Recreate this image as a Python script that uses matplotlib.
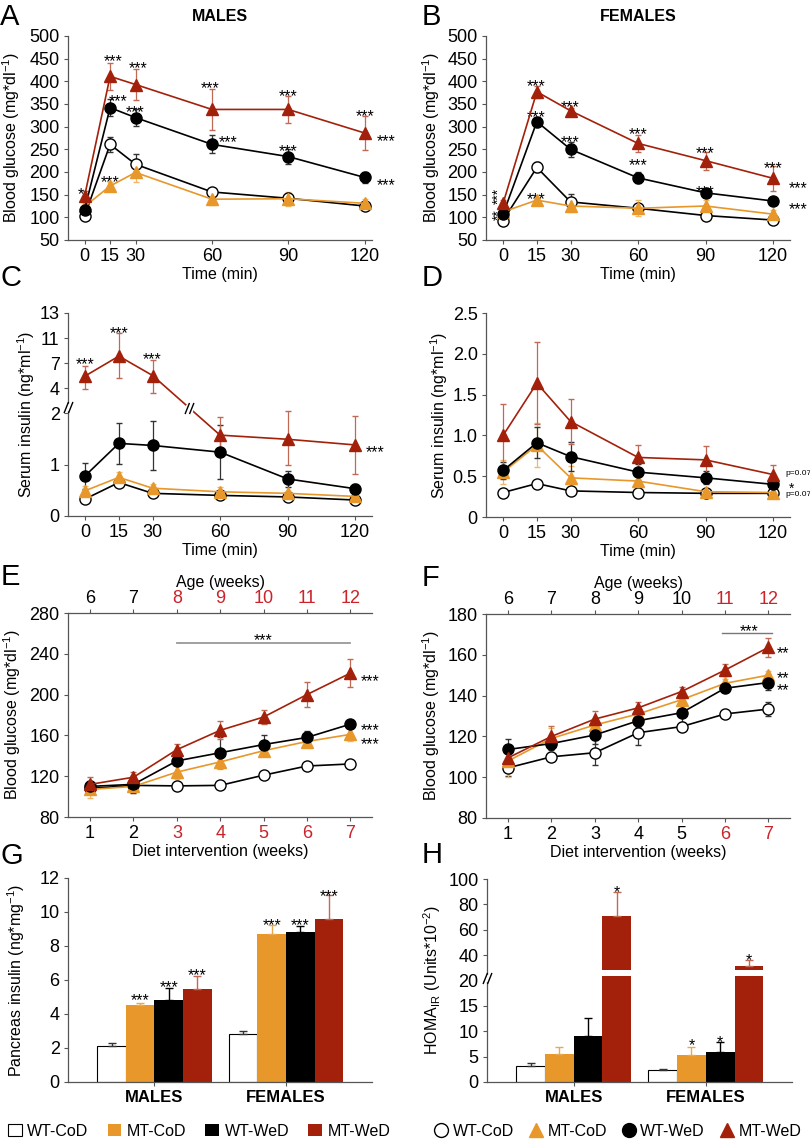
from __future__ import annotations

import matplotlib

matplotlib.use("Agg")
import matplotlib.pyplot as plt
import numpy as np
from matplotlib.lines import Line2D
from matplotlib.path import Path

plt.rcParams["font.family"] = "Liberation Sans"
plt.rcParams["mathtext.fontset"] = "custom"
plt.rcParams["mathtext.rm"] = "Liberation Sans"
plt.rcParams["mathtext.it"] = "Liberation Sans:italic"

GROUPS = ["WT-CoD", "MT-CoD", "WT-WeD", "MT-WeD"]
TIME_MIN = [0, 15, 30, 60, 90, 120]
DIET_WEEKS = [1, 2, 3, 4, 5, 6, 7]
AGE_WEEKS = [6, 7, 8, 9, 10, 11, 12]

# A - GTT males (mg/dl)
GTT_M_WTCOD = [103, 261, 217, 156, 142, 125]
GTT_M_WTCOD_SE = [6, 17, 22, 6, 8, 8]
GTT_M_MTCOD = [124, 169, 199, 140, 141, 131]
GTT_M_MTCOD_SE = [6, 8, 20, 12, 15, 9]
GTT_M_WTWED = [117, 342, 320, 261, 234, 188]
GTT_M_WTWED_SE = [8, 18, 18, 20, 17, 13]
GTT_M_MTWED = [147, 411, 393, 338, 338, 286]
GTT_M_MTWED_SE = [10, 30, 35, 45, 30, 38]

# B - GTT females
GTT_F_WTCOD = [93, 210, 134, 120, 104, 94]
GTT_F_WTCOD_SE = [5, 11, 17, 5, 4, 4]
GTT_F_MTCOD = [112, 138, 125, 120, 125, 107]
GTT_F_MTCOD_SE = [6, 5, 13, 18, 13, 10]
GTT_F_WTWED = [107, 311, 250, 187, 154, 136]
GTT_F_WTWED_SE = [8, 8, 17, 12, 6, 5]
GTT_F_MTWED = [131, 377, 335, 263, 225, 186]
GTT_F_MTWED_SE = [8, 13, 6, 18, 20, 27]

# C - serum insulin males (ng/ml)
INS_M_WTCOD = [0.33, 0.65, 0.44, 0.40, 0.37, 0.31]
INS_M_WTCOD_SE = [0.03, 0.05, 0.03, 0.02, 0.02, 0.02]
INS_M_MTCOD = [0.49, 0.75, 0.54, 0.47, 0.44, 0.38]
INS_M_MTCOD_SE = [0.10, 0.10, 0.08, 0.10, 0.05, 0.04]
INS_M_WTWED = [0.78, 1.41, 1.37, 1.24, 0.72, 0.53]
INS_M_WTWED_SE = [0.25, 0.40, 0.47, 0.53, 0.15, 0.10]
INS_M_MTWED = [5.44, 8.1, 5.5, 1.57, 1.49, 1.38]
INS_M_MTWED_LO = [1.5, 2.9, 1.9, 0.35, 0.5, 0.56]
INS_M_MTWED_HI = [1.2, 3.3, 2.0, 0.36, 0.7, 0.57]

# D - serum insulin females
INS_F_WTCOD = [0.30, 0.41, 0.32, 0.30, 0.29, 0.29]
INS_F_WTCOD_SE = [0.02, 0.02, 0.02, 0.02, 0.02, 0.02]
INS_F_MTCOD = [0.55, 0.88, 0.48, 0.44, 0.31, 0.30]
INS_F_MTCOD_SE = [0.15, 0.27, 0.15, 0.08, 0.05, 0.03]
INS_F_WTWED = [0.57, 0.91, 0.74, 0.55, 0.48, 0.40]
INS_F_WTWED_SE = [0.10, 0.19, 0.18, 0.10, 0.08, 0.05]
INS_F_MTWED = [1.00, 1.64, 1.17, 0.73, 0.70, 0.52]
INS_F_MTWED_SE = [0.38, 0.50, 0.27, 0.15, 0.17, 0.12]

# E - fasting glucose males over diet weeks
GLU_M_WTCOD = [108, 111, 110.5, 111, 121, 130, 132]
GLU_M_WTCOD_SE = [2, 2, 2, 2, 2, 2, 2]
GLU_M_MTCOD = [107, 110, 124, 134, 145, 154, 161]
GLU_M_MTCOD_SE = [8, 6, 7, 7, 5, 4, 6]
GLU_M_WTWED = [110, 112, 135, 143, 151, 158, 171]
GLU_M_WTWED_SE = [5, 8, 4, 15, 9, 6, 3]
GLU_M_MTWED = [112, 119, 146, 165, 178, 200, 221]
GLU_M_MTWED_SE = [7, 5, 6, 9, 7, 12, 14]

# F - fasting glucose females
GLU_F_WTCOD = [104.6, 110, 112, 121.8, 124.8, 131, 133.4]
GLU_F_WTCOD_SE = [4, 1.5, 6, 6, 2, 2, 3.5]
GLU_F_MTCOD = [108, 119, 125.6, 131, 138, 146, 150]
GLU_F_MTCOD_SE = [8, 5, 3, 3, 3, 2, 2]
GLU_F_WTWED = [113.6, 116.5, 120.7, 127.7, 131.6, 143.6, 146.4]
GLU_F_WTWED_SE = [5, 3, 4.5, 3, 4.5, 1.5, 3.5]
GLU_F_MTWED = [109.5, 120, 128.5, 134, 142, 152.5, 163.6]
GLU_F_MTWED_SE = [4, 5, 4, 3, 2, 3, 4.5]

# G - pancreas insulin (ng/mg), order WT-CoD, MT-CoD, WT-WeD, MT-WeD
PANC_MALES = [2.1, 4.55, 4.85, 5.5]
PANC_MALES_SE = [0.2, 0.1, 0.7, 0.75]
PANC_FEMALES = [2.8, 8.7, 8.85, 9.6]
PANC_FEMALES_SE = [0.2, 0.55, 0.35, 1.4]

# H - HOMA-IR (units*10^-2)
HOMA_MALES = [3.2, 5.5, 9.0, 70.5]
HOMA_MALES_SE = [0.5, 1.4, 3.6, 19.0]
HOMA_FEMALES = [2.4, 5.4, 6.0, 31.8]
HOMA_FEMALES_SE = [0.15, 1.5, 1.8, 4.0]

ORANGE = "#E8972A"
RED = "#A3210A"
TICK_RED = "#CC2229"
SPINE = "#555555"

LINE_STYLES = [
    dict(color="black", marker="o", mfc="white", mec="black", ecolor="#333333"),
    dict(color=ORANGE, marker="^", mfc=ORANGE, mec=ORANGE, ecolor="#F0B868"),
    dict(color="black", marker="o", mfc="black", mec="black", ecolor="#333333"),
    dict(color=RED, marker="^", mfc=RED, mec=RED, ecolor="#C06A55"),
]
BAR_STYLES = [
    dict(color="white", edgecolor="black", linewidth=0.8, ecolor="#333333"),
    dict(color=ORANGE, edgecolor="none", linewidth=0, ecolor="#E8A94F"),
    dict(color="black", edgecolor="none", linewidth=0, ecolor="black"),
    dict(color=RED, edgecolor="none", linewidth=0, ecolor="#C06A55"),
]

W, H = 810, 1142
TICK_FS = 13
LABEL_FS = 11.5
STAR_FS = 11.5

SLASH = Path(
    [(-0.8, -1.0), (0.0, 1.0), (0.0, -1.0), (0.8, 1.0)],
    [Path.MOVETO, Path.LINETO, Path.MOVETO, Path.LINETO],
)


def piecewise(xp, fp):
    def make(a, b):
        a = np.asarray(a, float)
        b = np.asarray(b, float)
        lo = (b[1] - b[0]) / (a[1] - a[0])
        hi = (b[-1] - b[-2]) / (a[-1] - a[-2])

        def f(v):
            v = np.asarray(v, float)
            out = np.interp(v, a, b)
            out = np.where(v < a[0], b[0] + (v - a[0]) * lo, out)
            return np.where(v > a[-1], b[-1] + (v - a[-1]) * hi, out)

        return f

    return make(xp, fp), make(fp, xp)


def add_axes(x0, y0, x1, y1):
    ax = plt.gcf().add_axes([x0 / W, 1 - y1 / H, (x1 - x0) / W, (y1 - y0) / H])
    for side in ("top", "right"):
        ax.spines[side].set_visible(False)
    for side in ("left", "bottom"):
        ax.spines[side].set_color(SPINE)
        ax.spines[side].set_linewidth(0.9)
    ax.tick_params(labelsize=TICK_FS, length=3, width=0.8, color=SPINE, pad=3)
    return ax


def draw_lines(ax, x, series):
    for (mean, err), style in zip(series, LINE_STYLES, strict=True):
        ax.errorbar(
            x, mean, yerr=err, color=style["color"], marker=style["marker"],
            mfc=style["mfc"], mec=style["mec"], ms=8, mew=1.0, lw=1.2,
            ecolor=style["ecolor"], elinewidth=0.9, capsize=2.5, capthick=0.9,
            clip_on=False, zorder=3,
        )


def stars(ax, items, fs=STAR_FS, rotation=0):
    # asterisks sit high in the em box, so nudge the text towards its visual centre
    shift = (0, -0.4 * fs) if rotation == 0 else (0.4 * fs, 0)
    for x, y, label in items:
        ax.annotate(label, (x, y), xytext=shift, textcoords="offset points",
                    ha="center", va="center", fontsize=fs, rotation=rotation,
                    annotation_clip=False)


def break_mark(ax, x, y, size=8):
    ax.plot(x, y, marker="s", ms=size * 0.55, mfc="white", mec="white", ls="none",
            clip_on=False, zorder=6)
    ax.plot(x, y, marker=SLASH, ms=size, mec="black", mew=1.0, ls="none",
            clip_on=False, zorder=7)


def ylabel(ax, text, xpos):
    ax.set_ylabel(text, fontsize=LABEL_FS)
    ax.yaxis.set_label_coords(xpos, 0.5)


fig = plt.figure(figsize=(W / 100, H / 100), dpi=100)

glucose_label = r"Blood glucose (mg*dl$^{\mathregular{-1}}$)"
insulin_label = r"Serum insulin (ng*ml$^{\mathregular{-1}}$)"

# ---- A ----
ax = add_axes(68, 36, 372, 240)
fwd, inv = piecewise([0, 30, 120], [0, 2, 11])
ax.set_xscale("function", functions=(fwd, inv))
draw_lines(ax, TIME_MIN, [
    (GTT_M_WTCOD, GTT_M_WTCOD_SE), (GTT_M_MTCOD, GTT_M_MTCOD_SE),
    (GTT_M_WTWED, GTT_M_WTWED_SE), (GTT_M_MTWED, GTT_M_MTWED_SE),
])
ax.set_xlim(-9.8, 122.9)
ax.set_ylim(50, 500)
ax.set_yticks(range(50, 501, 50))
ax.set_xticks(TIME_MIN)
ax.set_xlabel("Time (min)", fontsize=LABEL_FS, labelpad=1)
ylabel(ax, glucose_label, -0.151)
stars(ax, [
    (-2, 164, "*"), (16.7, 457, "***"), (31, 443, "***"), (19.7, 369, "***"),
    (29.5, 344, "***"), (59.2, 399, "***"), (66.5, 278, "***"), (90, 380, "***"),
    (90, 259, "***"), (120.2, 336, "***"), (128.5, 281, "***"), (128.5, 184, "***"),
    (15.2, 191, "***"),
])

# ---- B ----
ax = add_axes(486, 36, 790, 240)
draw_lines(ax, TIME_MIN, [
    (GTT_F_WTCOD, GTT_F_WTCOD_SE), (GTT_F_MTCOD, GTT_F_MTCOD_SE),
    (GTT_F_WTWED, GTT_F_WTWED_SE), (GTT_F_MTWED, GTT_F_MTWED_SE),
])
ax.set_xlim(-7.6, 127.5)
ax.set_ylim(50, 500)
ax.set_yticks(range(50, 501, 50))
ax.set_xticks(TIME_MIN)
ax.set_xlabel("Time (min)", fontsize=LABEL_FS, labelpad=1)
ylabel(ax, glucose_label, -0.145)
stars(ax, [
    (14.8, 402, "***"), (29.6, 355, "***"), (14.8, 333, "***"), (29.6, 278, "***"),
    (14.8, 154, "***"), (60, 296, "***"), (60, 228, "***"), (90, 255, "***"),
    (90, 169, "***"), (120, 221, "***"), (131, 178, "***"), (131, 131, "***"),
])
stars(ax, [(-4.6, 147, "***"), (-4.6, 107, "**")], fs=10, rotation=90)

# ---- C ----
ax = add_axes(68, 313, 372, 516)
fwd_c, inv_c = piecewise([0, 2, 4, 7, 11, 13], [0, 2, 2.485, 2.971, 3.456, 3.942])
ax.set_yscale("function", functions=(fwd_c, inv_c))
draw_lines(ax, TIME_MIN, [
    (INS_M_WTCOD, INS_M_WTCOD_SE), (INS_M_MTCOD, INS_M_MTCOD_SE),
    (INS_M_WTWED, INS_M_WTWED_SE), (INS_M_MTWED, [INS_M_MTWED_LO, INS_M_MTWED_HI]),
])
ax.set_xlim(-7.6, 127.5)
ax.set_ylim(0, 13)
ax.set_yticks([0, 1, 2, 4, 7, 11, 13])
ax.set_xticks(TIME_MIN)
ax.set_xlabel("Time (min)", fontsize=LABEL_FS, labelpad=1)
ylabel(ax, insulin_label, -0.102)
stars(ax, [(0, 7.7, "***"), (15, 11.9, "***"), (30, 8.5, "***"), (129, 1.36, "***")])
p30, p60 = fwd_c(INS_M_MTWED[2]), fwd_c(INS_M_MTWED[3])
x_break = 30 + (p30 - 2.1) / (p30 - p60) * 30
break_mark(ax, x_break, inv_c(2.1))
break_mark(ax, -7.6, inv_c(2.12))

# ---- D ----
ax = add_axes(486, 313, 790, 517)
draw_lines(ax, TIME_MIN, [
    (INS_F_WTCOD, INS_F_WTCOD_SE), (INS_F_MTCOD, INS_F_MTCOD_SE),
    (INS_F_WTWED, INS_F_WTWED_SE), (INS_F_MTWED, INS_F_MTWED_SE),
])
ax.set_xlim(-7.6, 127.5)
ax.set_ylim(0, 2.5)
ax.set_yticks([0, 0.5, 1.0, 1.5, 2.0, 2.5], labels=["0", "0.5", "1.0", "1.5", "2.0", "2.5"])
ax.set_xticks(TIME_MIN)
ax.set_xlabel("Time (min)", fontsize=LABEL_FS, labelpad=1)
ylabel(ax, insulin_label, -0.118)
for y, label in [(0.53, "p=0.07"), (0.27, "p=0.07")]:
    ax.text(125.5, y, label, fontsize=6, ha="left", va="center", clip_on=False)
stars(ax, [(128.2, 0.42, "*")], fs=10)


def diet_axes(ax, bottom_red, top_red):
    ax.set_xlim(0.49, 7.5)
    ax.set_xticks(DIET_WEEKS)
    for label, week in zip(ax.get_xticklabels(), DIET_WEEKS, strict=True):
        label.set_color(TICK_RED if week in bottom_red else "black")
    ax.set_xlabel("Diet intervention (weeks)", fontsize=LABEL_FS, labelpad=1)
    top = ax.secondary_xaxis("top")
    top.set_xticks(DIET_WEEKS, labels=[str(a) for a in AGE_WEEKS])
    top.tick_params(labelsize=TICK_FS, length=3, width=0.8, color=SPINE, pad=1.5)
    top.spines["top"].set_color(SPINE)
    top.spines["top"].set_linewidth(0.9)
    for label, age in zip(top.get_xticklabels(), AGE_WEEKS, strict=True):
        label.set_color(TICK_RED if age in top_red else "black")
    top.set_xlabel("Age (weeks)", fontsize=LABEL_FS, labelpad=2)


# ---- E ----
ax = add_axes(68, 613, 372, 817)
draw_lines(ax, DIET_WEEKS, [
    (GLU_M_WTCOD, GLU_M_WTCOD_SE), (GLU_M_MTCOD, GLU_M_MTCOD_SE),
    (GLU_M_WTWED, GLU_M_WTWED_SE), (GLU_M_MTWED, GLU_M_MTWED_SE),
])
ax.set_ylim(80, 280)
ax.set_yticks(range(80, 281, 40))
diet_axes(ax, bottom_red=[3, 4, 5, 6, 7], top_red=[8, 9, 10, 11, 12])
ylabel(ax, glucose_label, -0.148)
ax.plot([3, 7], [251, 251], color="#999999", lw=1.3)
stars(ax, [(5, 259, "***"), (7.45, 219, "***"), (7.45, 170.5, "***"), (7.45, 157.5, "***")])

# ---- F ----
ax = add_axes(486, 614, 790, 818)
draw_lines(ax, DIET_WEEKS, [
    (GLU_F_WTCOD, GLU_F_WTCOD_SE), (GLU_F_MTCOD, GLU_F_MTCOD_SE),
    (GLU_F_WTWED, GLU_F_WTWED_SE), (GLU_F_MTWED, GLU_F_MTWED_SE),
])
ax.set_ylim(80, 180)
ax.set_yticks(range(80, 181, 20))
diet_axes(ax, bottom_red=[6, 7], top_red=[11, 12])
ylabel(ax, glucose_label, -0.145)
ax.plot([5.93, 7.09], [170.6, 170.6], color="#777777", lw=1.0)
stars(ax, [(6.55, 174.5, "***"), (7.33, 163.6, "**"), (7.33, 151.5, "**"), (7.33, 145.5, "**")])

# ---- G ----
FEMALE_SHIFT = 4.6


def bar_panel(ax, males, males_se, females, females_se):
    containers = []
    for i, style in enumerate(BAR_STYLES):
        x = [i, FEMALE_SHIFT + i]
        vals = [males[i], females[i]]
        errs = [[0, 0], [males_se[i], females_se[i]]]
        containers.append(ax.bar(
            x, vals, width=1.0, color=style["color"], edgecolor=style["edgecolor"],
            linewidth=style["linewidth"], yerr=errs, zorder=2,
            error_kw=dict(ecolor=style["ecolor"], elinewidth=1.0, capsize=3, capthick=1.0),
        ))
    ax.set_xlim(-1.52, 9.1)
    ax.set_xticks([1.5, FEMALE_SHIFT + 1.5], labels=["MALES", "FEMALES"])
    for label in ax.get_xticklabels():
        label.set_fontweight("bold")
        label.set_fontsize(12)
    return containers


ax = add_axes(68, 878, 372, 1082)
bars = bar_panel(ax, PANC_MALES, PANC_MALES_SE, PANC_FEMALES, PANC_FEMALES_SE)
ax.set_ylim(0, 12)
ax.set_yticks(range(0, 13, 2))
ylabel(ax, r"Pancreas insulin (ng*mg$^{\mathregular{-1}}$)", -0.135)
stars(ax, [
    (1, 5.14, "***"), (2, 5.92, "***"), (3, 6.63, "***"),
    (FEMALE_SHIFT + 1, 9.57, "***"), (FEMALE_SHIFT + 2, 9.57, "***"),
    (FEMALE_SHIFT + 3, 11.3, "***"),
])
fig.legend(
    bars, GROUPS, loc="center left", bbox_to_anchor=(8 / W, 1 - 1131 / H),
    ncol=4, frameon=False, fontsize=11.5, handlelength=0.85, handleheight=0.85,
    handletextpad=0.35, columnspacing=1.2, borderaxespad=0, borderpad=0,
)

# ---- H ----
ax = add_axes(487, 879, 792, 1082)
fwd_h, inv_h = piecewise([0, 20, 100], [0, 20, 40])
ax.set_yscale("function", functions=(fwd_h, inv_h))
bar_panel(ax, HOMA_MALES, HOMA_MALES_SE, HOMA_FEMALES, HOMA_FEMALES_SE)
ax.bar([3, FEMALE_SHIFT + 3], [4.5, 4.5], bottom=23.4, width=1.08, color="white", zorder=3)
ax.set_ylim(0, 100)
ax.set_yticks([0, 5, 10, 15, 20, 40, 60, 80, 100])
ylabel(ax, r"HOMA$_{\mathregular{IR}}$ (Units*10$^{\mathregular{-2}}$)", -0.144)
stars(ax, [
    (3, 94.5, "*"), (FEMALE_SHIFT + 3, 40.5, "*"),
    (FEMALE_SHIFT + 1, 8.4, "*"), (FEMALE_SHIFT + 2, 9.0, "*"),
])
break_mark(ax, -1.52, 22.0)
markers = [
    Line2D([], [], ls="none", marker=s["marker"], mfc=s["mfc"], mec=s["mec"], ms=10)
    for s in LINE_STYLES
]
fig.legend(
    markers, GROUPS, loc="center left", bbox_to_anchor=(435 / W, 1 - 1131 / H),
    ncol=4, frameon=False, fontsize=11.5, handlelength=0.8, handletextpad=0.3,
    columnspacing=1.0, borderaxespad=0, borderpad=0,
)

# panel letters and headers
for letter, x, y in [("A", 0, 25), ("B", 422, 25), ("C", 0, 286), ("D", 422, 286),
                     ("E", 1, 585), ("F", 422, 586), ("G", 0, 864), ("H", 422, 863)]:
    fig.text(x / W, 1 - y / H, letter, fontsize=21, va="baseline", ha="left")
for title, x in [("MALES", 220), ("FEMALES", 638)]:
    fig.text(x / W, 1 - 21 / H, title, fontsize=11.5, fontweight="bold",
             ha="center", va="baseline")

fig.savefig("out.png", dpi=100)
plt.close(fig)
